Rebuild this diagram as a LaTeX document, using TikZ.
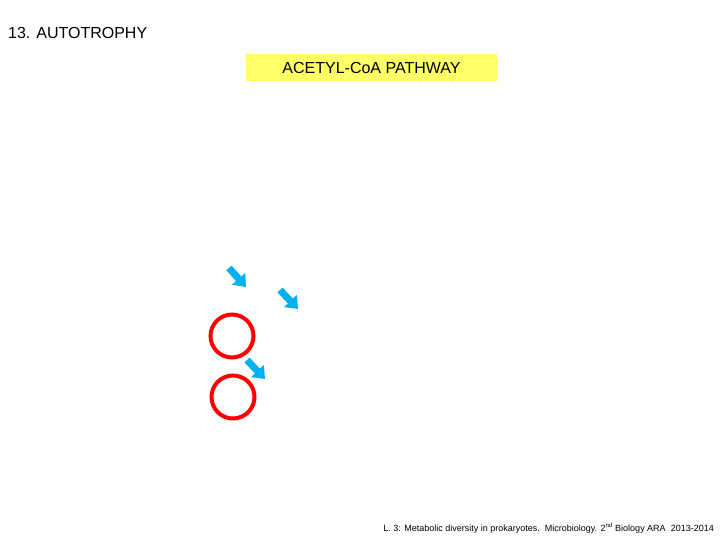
\documentclass[tikz,border=0pt]{standalone}
\usepackage{fontspec}
\setmainfont{Liberation Sans}
\usetikzlibrary{arrows.meta}
\definecolor{padyellow}{RGB}{255,255,102}
\definecolor{flowblue}{RGB}{0,176,240}
\begin{document}
\begin{tikzpicture}[x=1pt,y=-1pt,
  flow/.style={-{Triangle[length=11pt,width=17pt]},flowblue,line width=7pt},
  ring/.style={circle,draw=red,line width=4pt,minimum size=43pt,inner sep=0pt}]
  \useasboundingbox (0,0) rectangle (720,540);
  \fill[white] (0,0) rectangle (720,540);
  % heading and pathway banner
  \node[anchor=base west,font=\fontsize{16}{19}\selectfont,inner sep=0pt] (title) at (8,39) {13. AUTOTROPHY};
  \fill[padyellow] (246,54) rectangle (497,81);
  \node[font=\fontsize{16}{19}\selectfont,inner sep=0pt] (pathway) at (371.5,68) {ACETYL-CoA PATHWAY};
  % rings
  \node[ring] (ringA) at (232,336) {};
  \node[ring] (ringB) at (233,397) {};
  % arrows
  \coordinate (a1s) at (229,268); \coordinate (a1e) at (246,287);
  \coordinate (a2s) at (280,290); \coordinate (a2e) at (298,309);
  \coordinate (a3s) at (247,360); \coordinate (a3e) at (265,379);
  \foreach \s/\e in {a1s/a1e,a2s/a2e,a3s/a3e}{
    \draw[flow] (\s) -- (\e);
  }
  % footer
  \node[anchor=base east,font=\fontsize{9}{11}\selectfont,inner sep=0pt] (footer) at (714,531)
    {L. 3: Metabolic diversity in prokaryotes.\ \ Microbiology. 2\textsuperscript{nd} Biology ARA\ \ 2013-2014};
\end{tikzpicture}
\end{document}
